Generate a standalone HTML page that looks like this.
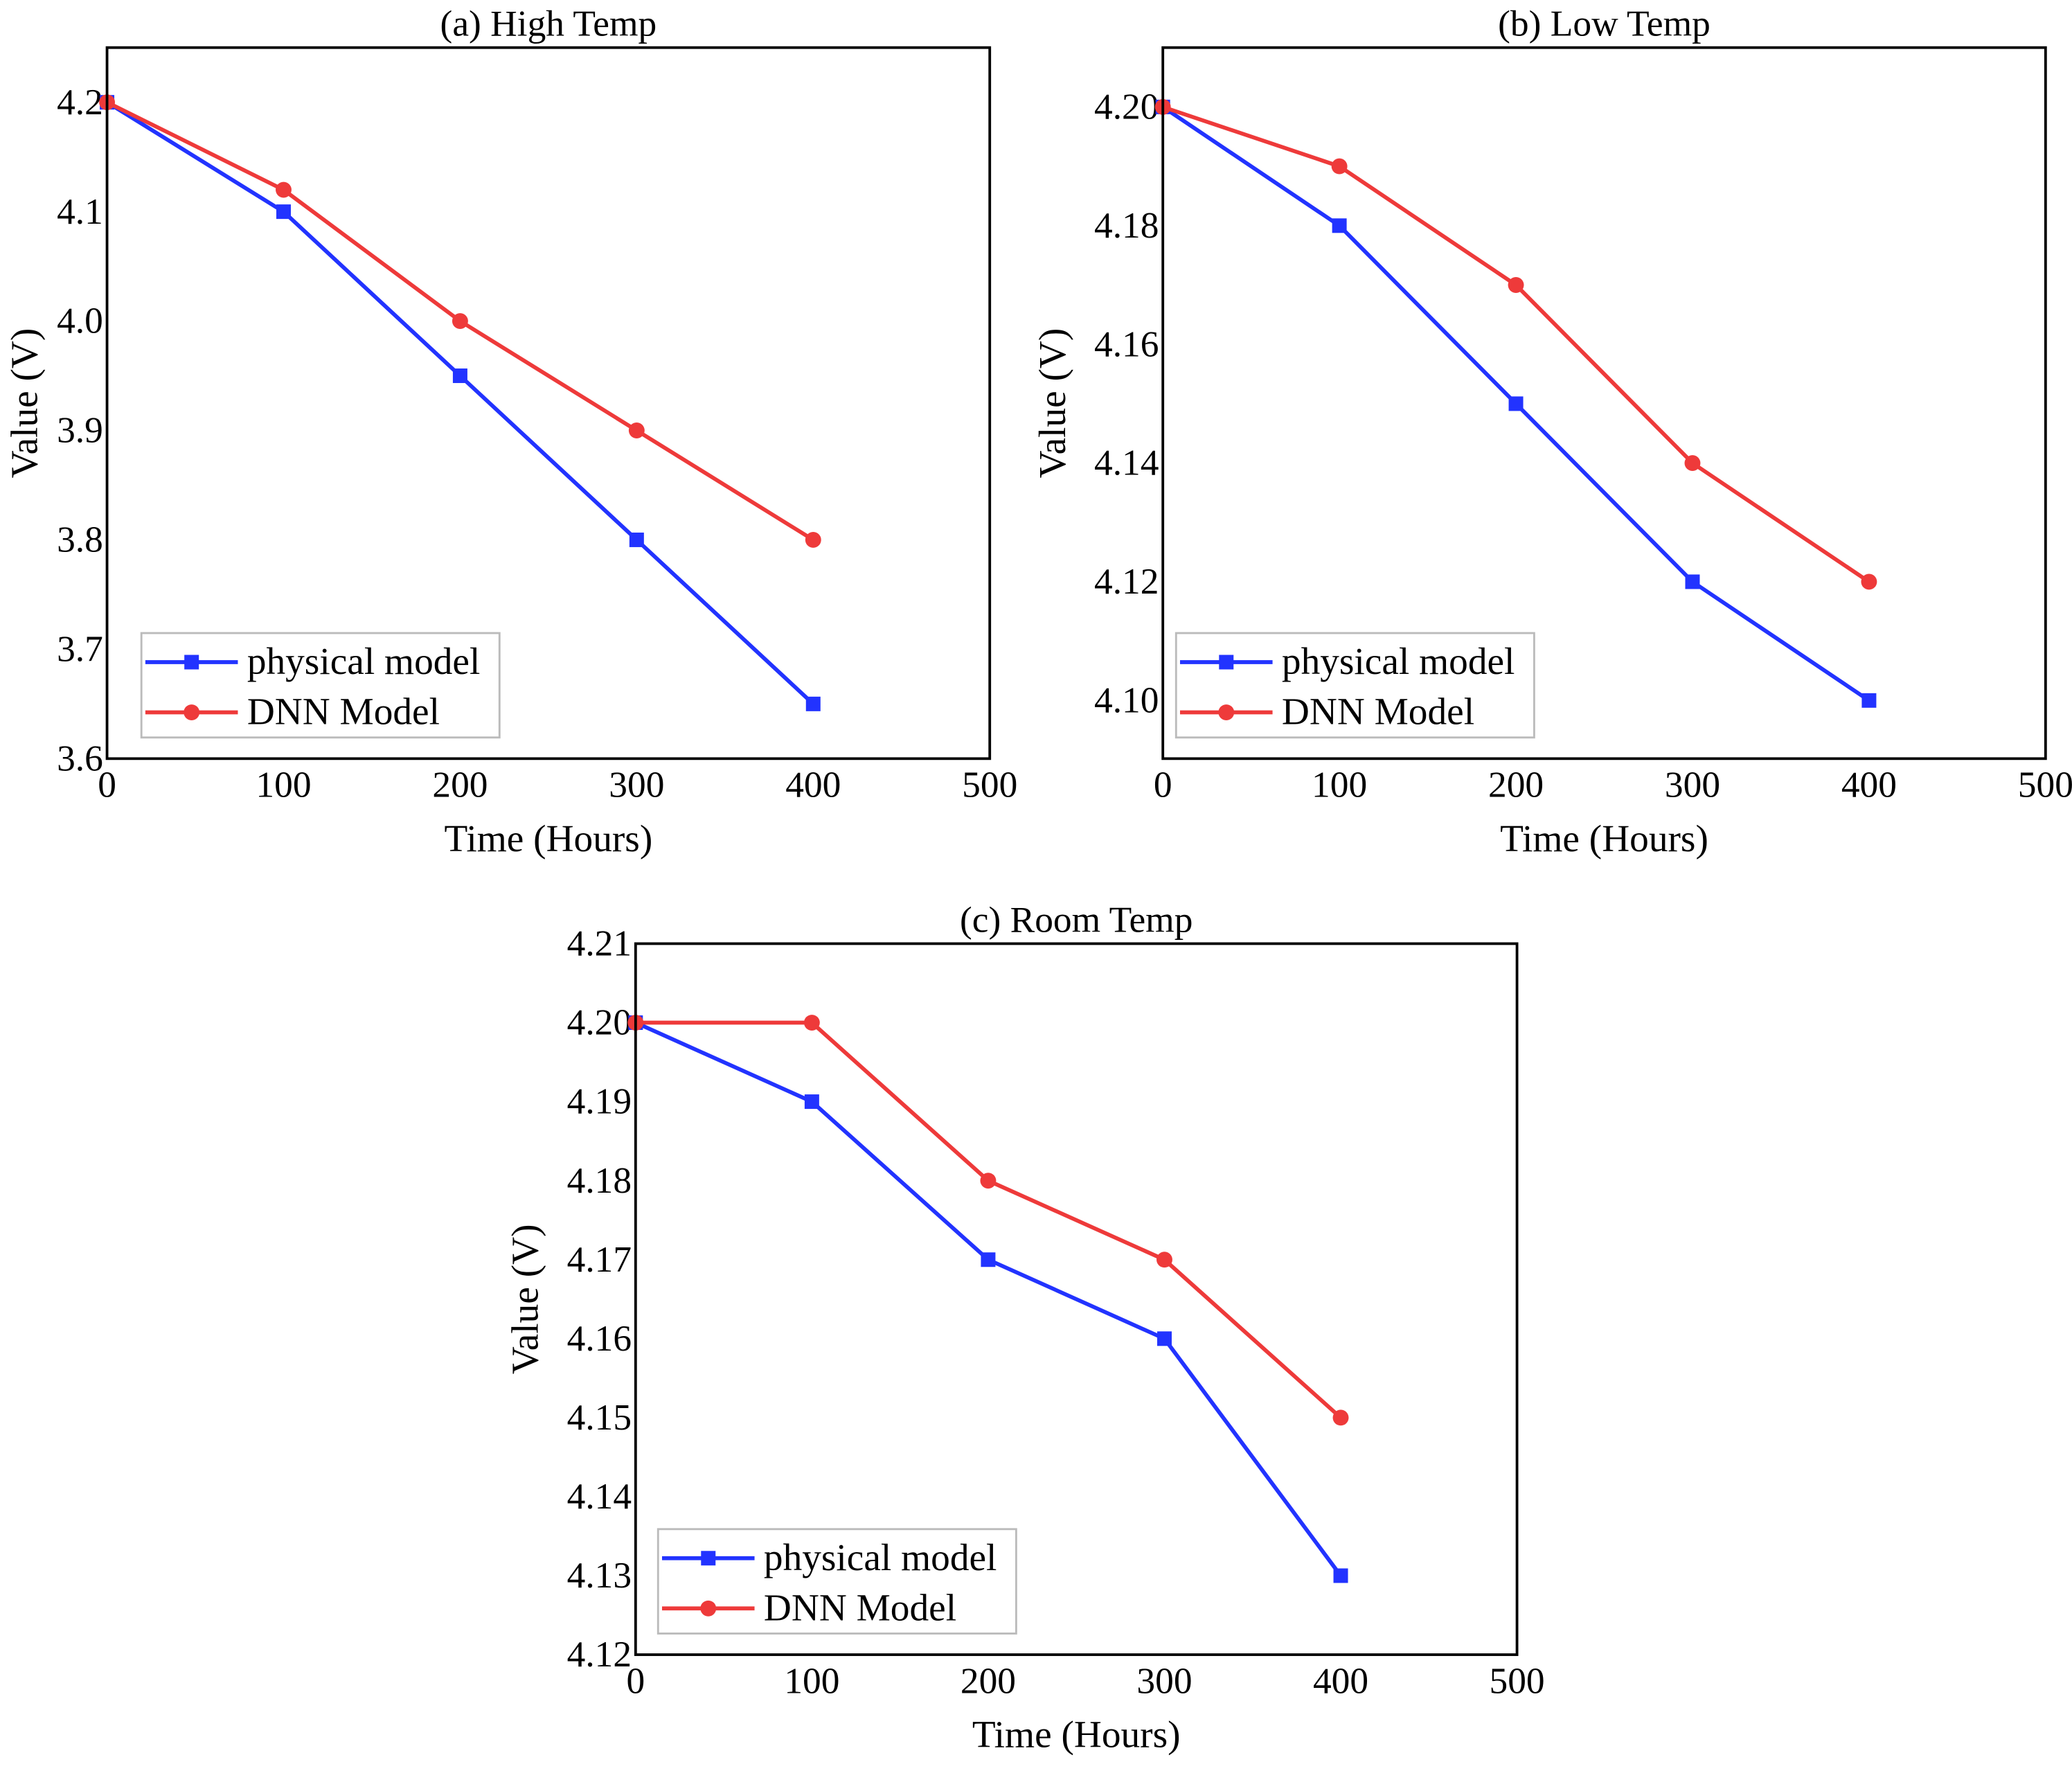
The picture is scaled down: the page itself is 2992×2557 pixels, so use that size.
<!DOCTYPE html>
<html><head><meta charset="utf-8"><style>html,body{margin:0;padding:0;background:#fff}svg{display:block}</style></head>
<body>
<svg id="chart" width="2992" height="2557" viewBox="0 0 1568 1340" xmlns="http://www.w3.org/2000/svg" font-family="'Liberation Serif', serif"></svg>
<script>
const hours = [0, 100, 200, 300, 400];
const xTicks = [0, 100, 200, 300, 400, 500];
const physA = [4.2, 4.1, 3.95, 3.8, 3.65];
const dnnA = [4.2, 4.12, 4.0, 3.9, 3.8];
const yTicksA = [3.6, 3.7, 3.8, 3.9, 4.0, 4.1, 4.2];
const physB = [4.20, 4.18, 4.15, 4.12, 4.10];
const dnnB = [4.20, 4.19, 4.17, 4.14, 4.12];
const yTicksB = [4.10, 4.12, 4.14, 4.16, 4.18, 4.20];
const physC = [4.20, 4.19, 4.17, 4.16, 4.13];
const dnnC = [4.20, 4.20, 4.18, 4.17, 4.15];
const yTicksC = [4.12, 4.13, 4.14, 4.15, 4.16, 4.17, 4.18, 4.19, 4.20, 4.21];

const NS = 'http://www.w3.org/2000/svg';
const svg = document.getElementById('chart');
function mk(tag, attrs, parent, text) {
  const e = document.createElementNS(NS, tag);
  for (const k in attrs) e.setAttribute(k, attrs[k]);
  if (text !== undefined) e.textContent = text;
  parent.appendChild(e);
  return e;
}
const BLUE = '#2233ff', RED = '#ee3a3a';

function panel(p) {
  const g = mk('g', {}, svg);
  
  
  const xs = v => p.x0 + (v - 0) / 500 * (p.x1 - p.x0);
  const ys = v => p.y1 - (v - p.ymin) / (p.ymax - p.ymin) * (p.y1 - p.y0);
  const t = mk('text', {x: (p.x0 + p.x1) / 2, y: p.y0 - 9, 'text-anchor': 'middle', 'font-size': 28}, g, p.title);
  
  
  xTicks.forEach(v => {
    const e = mk('text', {x: xs(v), y: p.y1 + 29, 'text-anchor': 'middle', 'font-size': 28}, g, String(v));
    
    
  });
  p.yt.forEach(v => {
    const e = mk('text', {x: p.x0 - 3, y: ys(v) + 9, 'text-anchor': 'end', 'font-size': 28}, g, v.toFixed(p.dec));
    
    
  });
  const xl = mk('text', {x: (p.x0 + p.x1) / 2, y: p.y1 + 70, 'text-anchor': 'middle', 'font-size': 29}, g, 'Time (Hours)');
  
  
  const cy = (p.y0 + p.y1) / 2;
  const yl = mk('text', {x: p.ylx, y: cy, 'text-anchor': 'middle', 'font-size': 29, transform: `rotate(-90 ${p.ylx} ${cy})`}, g, 'Value (V)');
  
  
  const series = [[p.phys, BLUE, 'sq', 'physical-model-series'], [p.dnn, RED, 'ci', 'dnn-model-series']];
  series.forEach(([d, c, m, n]) => {
    const pts = d.map((v, i) => xs(hours[i]) + ',' + ys(v)).join(' ');
    const l = mk('polyline', {points: pts, fill: 'none', stroke: c, 'stroke-width': 3}, g);
    
    
    d.forEach((v, i) => {
      let e;
      if (m === 'sq') e = mk('rect', {x: xs(hours[i]) - 5.5, y: ys(v) - 5.5, width: 11, height: 11, fill: c}, g);
      else e = mk('circle', {cx: xs(hours[i]), cy: ys(v), r: 6, fill: c}, g);
      
      
    });
  });
  const fr = mk('rect', {x: p.x0, y: p.y0, width: p.x1 - p.x0, height: p.y1 - p.y0, fill: 'none', stroke: '#000', 'stroke-width': 2}, g);
  
  
  const lg = mk('g', {}, g);
  
  
  const lx = p.lgx, ly = p.y1 - 95;
  mk('rect', {x: lx, y: ly, width: 271, height: 79, fill: '#fff', stroke: '#bbb', 'stroke-width': 1.5}, lg);
  [['physical model', BLUE, 'sq', 22], ['DNN Model', RED, 'ci', 60]].forEach(([lab, c, m, dy]) => {
    const eg = mk('g', {}, lg);
    
    
    mk('line', {x1: lx + 3, x2: lx + 73, y1: ly + dy, y2: ly + dy, stroke: c, 'stroke-width': 3}, eg);
    if (m === 'sq') mk('rect', {x: lx + 32.5, y: ly + dy - 5.5, width: 11, height: 11, fill: c}, eg);
    else mk('circle', {cx: lx + 38, cy: ly + dy, r: 6, fill: c}, eg);
    mk('text', {x: lx + 80, y: ly + dy + 9, 'font-size': 29}, eg, lab);
  });
}

panel({name: 'panel-high-temp', title: '(a) High Temp', x0: 81, x1: 749, y0: 36, y1: 574, ymin: 3.6, ymax: 4.25, yt: yTicksA, dec: 1, phys: physA, dnn: dnnA, ylx: 28, lgx: 107});
panel({name: 'panel-low-temp', title: '(b) Low Temp', x0: 880, x1: 1548, y0: 36, y1: 574, ymin: 4.0902, ymax: 4.21, yt: yTicksB, dec: 2, phys: physB, dnn: dnnB, ylx: 806, lgx: 890});
panel({name: 'panel-room-temp', title: '(c) Room Temp', x0: 481, x1: 1148, y0: 714, y1: 1252, ymin: 4.12, ymax: 4.21, yt: yTicksC, dec: 2, phys: physC, dnn: dnnC, ylx: 407, lgx: 498});
</script>
</body></html>
